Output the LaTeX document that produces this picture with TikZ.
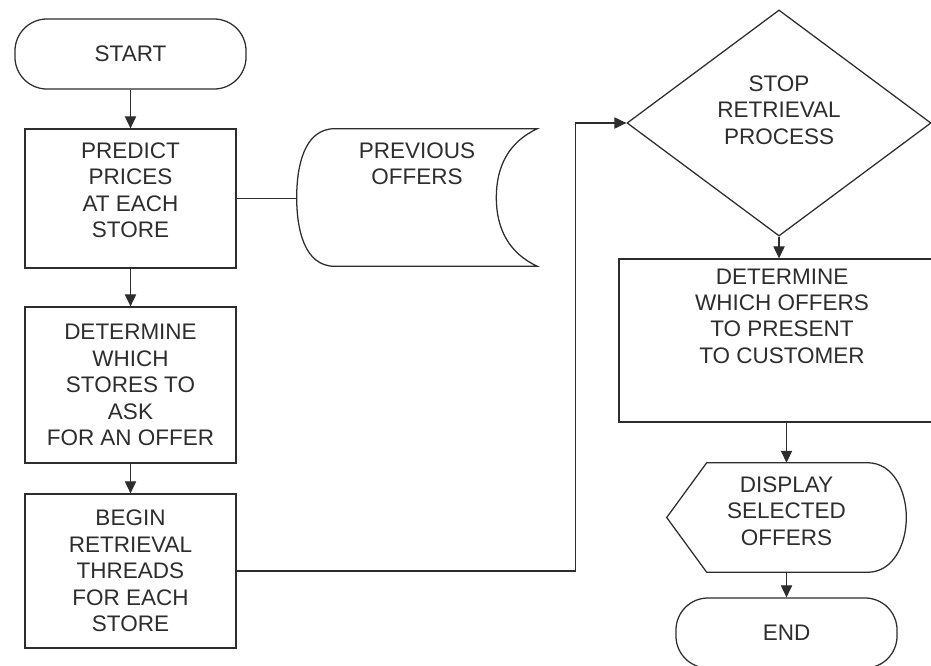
\documentclass[tikz,border=0pt]{standalone}
\usepackage{fontspec}
\setmainfont{Liberation Sans}
\usepackage{xcolor}
\usetikzlibrary{calc,shapes,arrows,arrows.meta,positioning}
\definecolor{inkgray}{RGB}{45,45,45}

\begin{document}
\begin{tikzpicture}[x=0.025cm,y=-0.025cm,>={Triangle[length=8.5pt,width=8pt]}]

           \tikzstyle{every node}=[font=\fontsize{16}{18.8}\selectfont, text=inkgray, align=center]
           \tikzstyle{every edge}=[draw, ->, line width=0.8pt, inkgray]
           \tikzstyle{term}=[draw=inkgray, line width=0.9pt, rectangle, rounded corners=0.8cm, minimum width=5.775cm, minimum height=1.75cm]
           \tikzstyle{box}=[draw=inkgray, line width=0.9pt, rectangle, minimum width=5.275cm, inner sep=0pt]
           \tikzstyle{decision}=[draw=inkgray, line width=0.9pt, diamond, minimum width=7.6cm, minimum height=5.65cm, inner sep=0pt]
           \tikzstyle{ghost}=[rectangle, inner sep=0pt]
           \tikzstyle{outline}=[draw=inkgray, line width=0.9pt]
           \tikzstyle{link}=[draw=inkgray, line width=0.8pt]

    \useasboundingbox (0,0) rectangle (931,665);

    % left column
    \node[term] (start) at (130.5,54) {START};
    \node[box, minimum height=3.475cm, label={[yshift=0.21cm]center:PREDICT\\PRICES\\AT EACH\\STORE}] (predict) at (130.5,198.5) {};
    \node[box, minimum height=3.9cm] (which) at (130.5,385) {DETERMINE\\WHICH\\STORES TO\\ASK\\FOR AN OFFER};
    \node[box, minimum height=3.85cm] (threads) at (130.5,571) {BEGIN\\RETRIEVAL\\THREADS\\FOR EACH\\STORE};

    % stored data
    \node[ghost, minimum width=6cm, minimum height=3.425cm, label={[yshift=0.84cm]center:PREVIOUS\\OFFERS}] (prev) at (417,197.5) {};
    \draw[outline] ([xshift=0.95cm]prev.north west) -- (prev.north east)
        to[out=205,in=90] ([xshift=-1.025cm]prev.east)
        to[out=270,in=155] (prev.south east) -- ([xshift=0.95cm]prev.south west)
        to[out=180,in=270] (prev.west)
        to[out=90,in=180] ([xshift=0.95cm]prev.north west) -- cycle;

    % right column
    \node[decision, label={[yshift=0.325cm]center:STOP\\RETRIEVAL\\PROCESS}] (stop) at (779,123) {};
    \node[box, minimum width=8.15cm, minimum height=4.075cm, label={[yshift=0.61cm]center:DETERMINE\\WHICH OFFERS\\TO PRESENT\\TO CUSTOMER}] (choose) at (782,340.5) {};
    \node[ghost, minimum width=5.975cm, minimum height=2.725cm, label={[yshift=0.16cm]center:DISPLAY\\SELECTED\\OFFERS}] (show) at (786.5,517.5) {};
    \draw[outline] ([xshift=1cm]show.north west) -- ([xshift=-0.975cm]show.north east)
        to[out=0,in=90] (show.east)
        to[out=270,in=0] ([xshift=-0.975cm]show.south east) -- ([xshift=1cm]show.south west)
        -- (show.west) -- cycle;
    \node[term, minimum width=5.525cm] (finish) at (786.5,633) {END};

    \path (start) edge (predict);
    \path (predict) edge (which);
    \path (which) edge (threads);
    \draw[link] (predict.east) -- (predict.east -| prev.west);
    \draw[link, ->] (threads.east) -| ($(stop.west)+(-51,0)$) -- (stop.west);
    \path (stop.south) edge (stop.south |- choose.north);
    \path (show.north |- choose.south) edge (show.north);
    \path (show) edge (finish);
 \end{tikzpicture}
\end{document}
